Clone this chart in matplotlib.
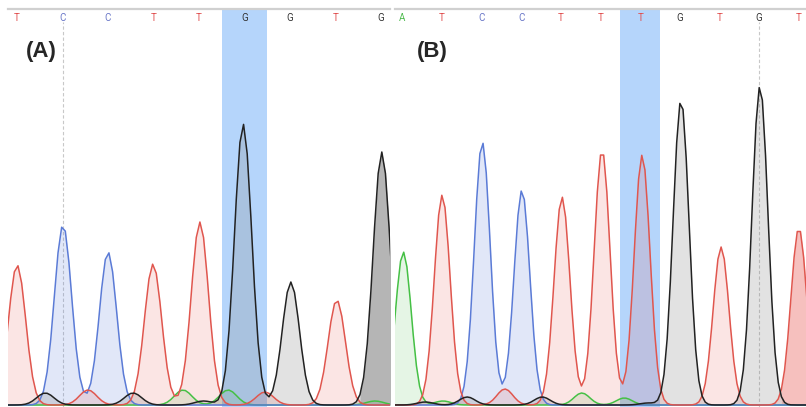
import numpy as np
import matplotlib
matplotlib.use("Agg")
import matplotlib.pyplot as plt

# ---------------- DATA ----------------
bases_a = ["T", "C", "C", "T", "T", "G", "G", "T", "G"]
bases_b = ["A", "T", "C", "C", "T", "T", "T", "G", "T", "G", "T"]

# peaks per channel: (position in base units, signal height)
a_T = [(0.0, 140), (1.56, 15), (2.99, 141), (4.02, 183), (5.45, 13), (7.03, 105)]
a_C = [(1.01, 180), (2.0, 153)]
a_G = [(0.62, 12), (2.55, 12), (4.1, 4), (4.97, 281), (6.02, 123), (8.02, 253)]
a_A = [(3.65, 15), (4.64, 15), (7.87, 4)]

b_A = [(0.03, 153), (1.03, 4), (4.53, 12), (5.6, 7)]
b_T = [(1.01, 210), (2.59, 16), (4.03, 208), (5.04, 255), (6.05, 250),
       (8.04, 158), (10.0, 177)]
b_C = [(2.02, 263), (3.02, 215)]
b_G = [(0.58, 3), (1.64, 8), (3.53, 8), (6.2, 2), (7.03, 305), (9.02, 319)]

highlight_a = 5
highlight_b = 6
cursor_a = 1
cursor_b = 9

# ---------------- STYLE ----------------
line_col = {"T": "#e0564e", "C": "#5b7bd6", "G": "#222222", "A": "#45c045"}
fill_col = {"T": "#e8554e", "C": "#5b7fdc", "G": "#7f7f7f", "A": "#55c055"}
fill_alpha = {"T": 0.15, "C": 0.18, "G": 0.22, "A": 0.15}
label_col = {"T": "#e05050", "C": "#6a78c8", "G": "#333333", "A": "#4cba4c"}


def trace(x, peaks, sigma):
    y = np.zeros_like(x)
    for pos, h in peaks:
        y += h * np.exp(-(x - pos) ** 2 / (2 * sigma ** 2))
    return y


def draw_panel(ax, bases, channels, sigma, hl, cursor, xlim, tag, tag_x, dark=None):
    ax.set_xlim(*xlim)
    ax.set_ylim(-2, 396)
    ax.axvspan(hl - 0.5, hl + 0.5, color="#b5d5fb", zorder=0, lw=0)
    ax.plot([cursor, cursor], [-2, 383], color="#c8c8c8", lw=0.8,
            ls=(0, (3, 2)), zorder=1)

    x = np.arange(xlim[0] - 0.5, xlim[1] + 0.5, 0.08)
    for base, peaks in channels.items():
        y = trace(x, peaks, sigma)
        ax.fill_between(x, 0, y, color=fill_col[base], alpha=fill_alpha[base],
                        lw=0, zorder=2)
        if dark and dark[0] == base:
            ax.fill_between(x, 0, y, where=x > dark[1], color=fill_col[base],
                            alpha=dark[2], lw=0, zorder=2)
        ax.plot(x, y, color=line_col[base], lw=1.1, zorder=3)

    for i, b in enumerate(bases):
        ax.text(i, 387, b, color=label_col[b], fontsize=7, ha="center",
                va="center", family="Roboto")
    ax.text(tag_x, 0.892, tag, transform=ax.transAxes,
            fontsize=16, fontweight="bold", color="#262626",
            family="Liberation Sans", ha="left", va="center")

    for s in ["left", "right", "bottom"]:
        ax.spines[s].set_visible(False)
    ax.spines["top"].set_color("#d0d0d0")
    ax.spines["top"].set_linewidth(1.6)
    ax.set_xticks([])
    ax.set_yticks([])


fig = plt.figure(figsize=(8.06, 4.07), dpi=100)
ax_a = fig.add_axes([8 / 806, 0, 382 / 806, 1 - 9 / 407])
ax_b = fig.add_axes([395 / 806, 0, 411 / 806, 1 - 9 / 407])

draw_panel(ax_a, bases_a, {"A": a_A, "C": a_C, "T": a_T, "G": a_G}, 0.19,
           highlight_a, cursor_a, (-0.2, 8.2), "(A)", 0.047, dark=("G", 7.5, 0.45))
draw_panel(ax_b, bases_b, {"A": b_A, "C": b_C, "T": b_T, "G": b_G}, 0.2,
           highlight_b, cursor_b, (-0.18, 10.18), "(B)", 0.054, dark=("T", 9.55, 0.25))

fig.savefig("out.png", dpi=100)
